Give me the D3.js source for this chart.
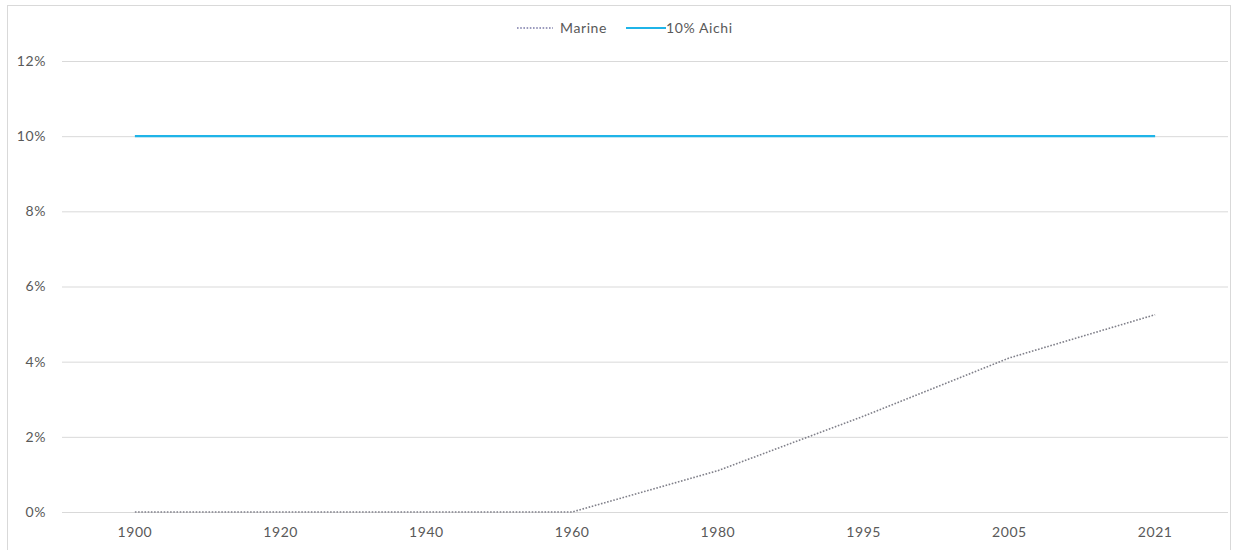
<!DOCTYPE html>
<html>
<head>
<meta charset="utf-8">
<script src="https://cdn.jsdelivr.net/npm/d3@7"></script>
<style>
  html, body { margin: 0; padding: 0; background: #fff; }
  svg text { font-family: Lato, "Open Sans", "Liberation Sans", sans-serif; fill: #595959; letter-spacing: 0.6px; }
</style>
</head>
<body>
<svg id="chart" width="1242" height="550"></svg>
<script>
// Share of area protected over time
const years = ["1900", "1920", "1940", "1960", "1980", "1995", "2005", "2021"];
const marine = [0, 0, 0, 0, 1.1, 2.55, 4.1, 5.25];
const aichi = [10, 10, 10, 10, 10, 10, 10, 10];
const yTicks = [0, 2, 4, 6, 8, 10, 12];
const seriesNames = ["Marine", "10% Aichi"];

const svg = d3.select("#chart");
const W = 1242, H = 550;
const margin = { left: 62, right: 14, top: 61, bottom: 38 };
const fontSize = 14;

// chart frame
svg.append("rect")
  .attr("x", 7.5).attr("y", 5.5)
  .attr("width", 1223).attr("height", 560)
  .attr("fill", "#fff").attr("stroke", "#d9d9d9").attr("stroke-width", 1);

const x = d3.scaleBand().domain(years)
  .range([margin.left, W - margin.right]);
const y = d3.scaleLinear().domain([0, 12])
  .range([H - margin.bottom, margin.top]);

// gridlines + y labels
const yAxis = d3.axisLeft(y).tickValues(yTicks)
  .tickFormat(d => d + "%")
  .tickSize(-(x.range()[1] - x.range()[0]))
  .tickPadding(16);
const gy = svg.append("g")
  .attr("transform", `translate(${margin.left},0)`)
  .call(yAxis);
gy.select(".domain").remove();
gy.selectAll(".tick line").attr("stroke", "#d9d9d9").attr("stroke-width", 1);
gy.selectAll(".tick text").attr("font-size", fontSize).style("fill", "#595959");

// x labels
const xAxis = d3.axisBottom(x).tickSize(0).tickPadding(15);
const gx = svg.append("g")
  .attr("transform", `translate(0,${y(0)})`)
  .call(xAxis);
gx.select(".domain").remove();
gx.selectAll(".tick text").attr("font-size", fontSize).style("fill", "#595959");

const cx = d => x(d) + x.bandwidth() / 2;

// 10% Aichi target line
const line = d3.line().x(d => cx(d.year)).y(d => y(d.v));
svg.append("path")
  .datum(years.map((yr, i) => ({ year: yr, v: aichi[i] })))
  .attr("d", line)
  .attr("fill", "none")
  .attr("stroke", "#1fb4e8")
  .attr("stroke-width", 2.2);

// Marine series, dotted
svg.append("path")
  .datum(years.map((yr, i) => ({ year: yr, v: marine[i] })))
  .attr("d", line)
  .attr("fill", "none")
  .attr("stroke", "#80808a")
  .attr("stroke-width", 1.6)
  .attr("stroke-dasharray", "1.6,1.6");

// legend
const lg = svg.append("g").attr("transform", "translate(0,28)");
lg.append("line")
  .attr("x1", 517).attr("x2", 553).attr("y1", 0).attr("y2", 0)
  .attr("stroke", "#7b7ba8").attr("stroke-width", 1.6)
  .attr("stroke-dasharray", "1.6,1.6");
lg.append("text").attr("x", 560).attr("y", 0).attr("dy", "0.35em")
  .attr("font-size", fontSize).text(seriesNames[0]);
lg.append("line")
  .attr("x1", 626).attr("x2", 666).attr("y1", 0).attr("y2", 0)
  .attr("stroke", "#1fb4e8").attr("stroke-width", 2.2);
lg.append("text").attr("x", 666).attr("y", 0).attr("dy", "0.35em")
  .attr("font-size", fontSize).text(seriesNames[1]);
</script>
</body>
</html>
